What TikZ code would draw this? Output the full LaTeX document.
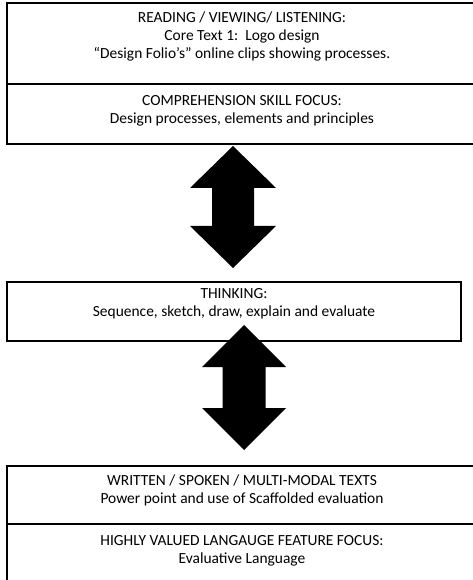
\documentclass[tikz,border=0pt]{standalone}
\usepackage{fontspec}
\setmainfont{Carlito}
\usetikzlibrary{positioning}

\tikzset{
  panel/.style={draw,line width=1.5pt},
  txt/.style={align=center,anchor=north,inner sep=0pt,
    font=\fontsize{11.6pt}{13.5pt}\selectfont},
}

\begin{document}
\begin{tikzpicture}[x=0.75pt,y=-0.75pt]
  \useasboundingbox (0,0) rectangle (473,580);
  \clip (0,0) rectangle (473,580);

  % top panel
  \draw[panel] (7,3) rectangle (478,144);
  \draw[panel] (7,84) -- (478,84);
  \node (read) [txt] at (242,10) {\strut READING / VIEWING/ LISTENING:\\Core Text 1:\ \ Logo design\\“Design Folio’s” online clips showing processes.};
  \node (comp) [txt] at (242,93) {\strut COMPREHENSION SKILL FOCUS:\\Design processes, elements and principles};

  % middle panel
  \draw[panel] (7,282) rectangle (461,341);
  \node (think) [txt] at (234,286) {\strut THINKING:\\Sequence, sketch, draw, explain and evaluate};

  % bottom panel
  \draw[panel] (7,466) rectangle (478,600);
  \draw[panel] (7,524) -- (478,524);
  \node (write) [txt] at (242,473) {\strut WRITTEN / SPOKEN / MULTI-MODAL TEXTS\\Power point and use of Scaffolded evaluation};
  \node (lang) [txt] at (242,533) {\strut HIGHLY VALUED LANGAUGE FEATURE FOCUS:\\Evaluative Language};

  % two-way arrows
  \coordinate (u1) at (233,146);
  \coordinate (d1) at (233,268);
  \fill (u1) -- ++(43,42) -- ++(-22,0) -- ++(0,38) -- ++(22,0) -- (d1)
    -- ++(-43,-42) -- ++(22,0) -- ++(0,-38) -- ++(-22,0) -- cycle;
  \coordinate (u2) at (244,325);
  \coordinate (d2) at (244,450);
  \fill (u2) -- ++(42,42) -- ++(-20.5,0) -- ++(0,41) -- ++(20.5,0) -- (d2)
    -- ++(-42,-42) -- ++(20.5,0) -- ++(0,-41) -- ++(-20.5,0) -- cycle;
\end{tikzpicture}
\end{document}
